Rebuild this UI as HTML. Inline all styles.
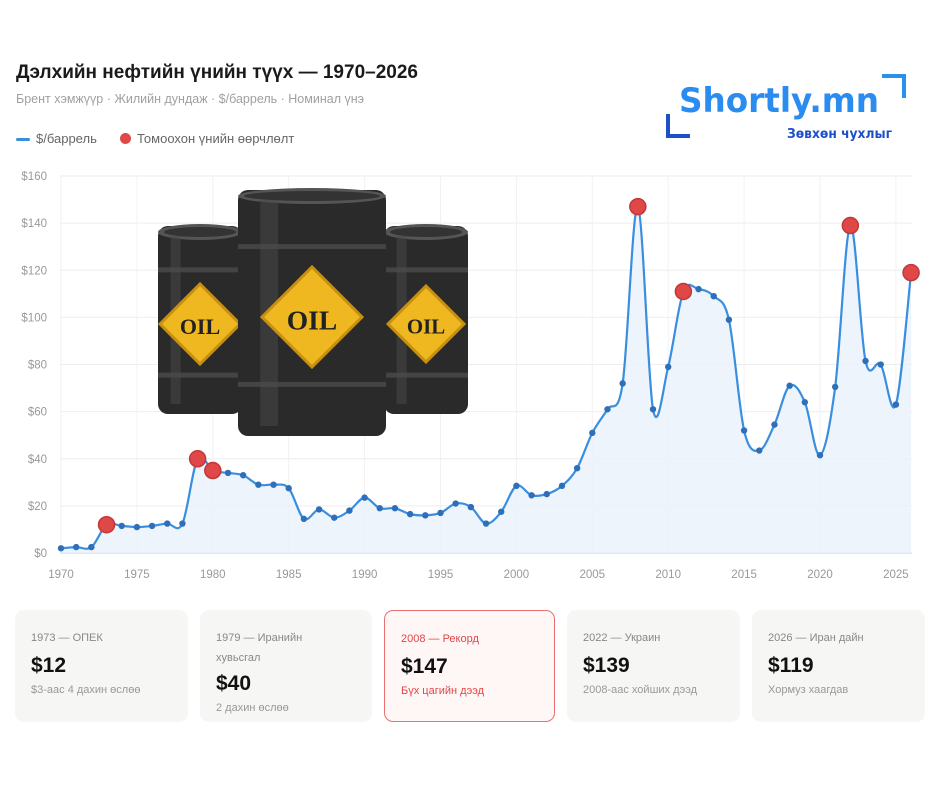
<!DOCTYPE html>
<html><head><meta charset="utf-8">
<style>
body{margin:0;background:#fff;font-family:"Liberation Sans","DejaVu Sans",sans-serif;}
#w{position:relative;width:940px;height:788px;overflow:hidden;}
.t{position:absolute;left:16px;top:62px;font-size:19px;font-weight:bold;color:#1a1a1a;}
.s{position:absolute;left:16px;top:92px;font-size:12.5px;color:#a0a0a0;}
.lg{position:absolute;top:131px;font-size:13px;color:#666;}
.card{position:absolute;top:610px;height:112px;background:#f6f6f4;border-radius:9px;box-sizing:border-box;padding:18px 0 0 16px;}
.card .a{font-size:11px;color:#888;line-height:20px;}
.card .b{font-size:21px;font-weight:bold;color:#111;margin-top:6px;}
.card .c{font-size:11px;color:#999;margin-top:6px;}
.red{background:#fff6f6;border:1.5px solid #e87070;}
.red .a,.red .c{color:#e04848;}
</style></head><body><div id="w">
<div class="t">Дэлхийн нефтийн үнийн түүх — 1970–2026</div>
<div class="s">Брент хэмжүүр · Жилийн дундаж · $/баррель · Номинал үнэ</div>
<div class="lg" style="left:16px"><span style="display:inline-block;width:14px;height:3px;background:#3a8ee0;border-radius:2px;vertical-align:middle;margin-right:6px"></span>$/баррель</div>
<div class="lg" style="left:120px"><span style="display:inline-block;width:11px;height:11px;background:#e04848;border-radius:50%;vertical-align:-1px;margin-right:6px"></span>Томоохон үнийн өөрчлөлт</div>
<svg style="position:absolute;left:0;top:0" width="940" height="788">
<path d="M668 114 V136 H690" stroke="#1c50c8" stroke-width="4" fill="none"/>
<path d="M882 76 H904 V98" stroke="#2a90f0" stroke-width="4" fill="none"/>
<text x="679" y="112" font-size="34" font-weight="bold" fill="#2a8cf0" font-family="DejaVu Sans,sans-serif" textLength="200" lengthAdjust="spacingAndGlyphs">Shortly.mn</text>
<text x="787" y="138" font-size="13" font-weight="bold" fill="#1c50c8" font-family="DejaVu Sans,sans-serif" textLength="105" lengthAdjust="spacingAndGlyphs">Зөвхөн чухлыг</text>
<g id="grid"></g>
<path id="area" fill="#e8f1fb" opacity="0.8"/>
<path id="line" fill="none" stroke="#3a8ee0" stroke-width="2.2"/>
<g id="pts"></g>
<g id="bar">
</g>
</svg>
<div class="card" style="left:15px;width:173px"><div class="a">1973 — ОПЕК</div><div class="b">$12</div><div class="c">$3-аас 4 дахин өслөө</div></div>
<div class="card" style="left:200px;width:172px"><div class="a">1979 — Иранийн<br>хувьсгал</div><div class="b" style="margin-top:4px">$40</div><div class="c">2 дахин өслөө</div></div>
<div class="card red" style="left:384px;width:171px"><div class="a">2008 — Рекорд</div><div class="b">$147</div><div class="c">Бүх цагийн дээд</div></div>
<div class="card" style="left:567px;width:173px"><div class="a">2022 — Украин</div><div class="b">$139</div><div class="c">2008-аас хойших дээд</div></div>
<div class="card" style="left:752px;width:173px"><div class="a">2026 — Иран дайн</div><div class="b">$119</div><div class="c">Хормуз хаагдав</div></div>
</div>
<script>
var NS="http://www.w3.org/2000/svg";
function el(t,a,p){var e=document.createElementNS(NS,t);for(var k in a)e.setAttribute(k,a[k]);p.appendChild(e);return e;}
var d=[2,2.5,2.5,12,11.5,11,11.5,12.5,12.5,40,35,34,33,29,29,27.5,14.5,18.5,15,18,23.5,19,19,16.5,16,17,21,19.5,12.5,17.5,28.5,24.5,25,28.5,36,51,61,72,147,61,79,111,112,109,99,52,43.5,54.5,71,64,41.5,70.5,139,81.5,80,63,119];
var red={1973:1,1979:1,1980:1,2008:1,2011:1,2022:1,2026:1};
function X(y){return 61+(y-1970)*15.18;}function Y(v){return 553-v*2.356;}
var g=document.getElementById('grid');
for(var v=0;v<=160;v+=20){el('line',{x1:60,x2:912,y1:Y(v),y2:Y(v),stroke:'#eee'},g);var t=el('text',{x:47,y:Y(v)+4,'font-size':11.5,fill:'#999','text-anchor':'end'},g);t.textContent='$'+v;}
for(var y=1970;y<=2025;y+=5){el('line',{x1:X(y),x2:X(y),y1:176,y2:553,stroke:'#f2f2f2'},g);var t=el('text',{x:X(y),y:578,'font-size':11.5,fill:'#999','text-anchor':'middle'},g);t.textContent=y;}
el('line',{x1:60,x2:912,y1:553,y2:553,stroke:'#ccc'},g);
var P=d.map(function(v,i){return [X(1970+i),Y(v)];});
var s='M'+P[0][0]+' '+P[0][1];
for(var i=0;i<P.length-1;i++){var p0=P[i-1]||P[i],p1=P[i],p2=P[i+1],p3=P[i+2]||p2;
s+=' C'+(p1[0]+(p2[0]-p0[0])/6)+' '+(p1[1]+(p2[1]-p0[1])/6)+' '+(p2[0]-(p3[0]-p1[0])/6)+' '+(p2[1]-(p3[1]-p1[1])/6)+' '+p2[0]+' '+p2[1];}
document.getElementById('line').setAttribute('d',s);
document.getElementById('area').setAttribute('d',s+' L'+P[P.length-1][0]+' 553 L'+P[0][0]+' 553Z');
var pg=document.getElementById('pts');
P.forEach(function(p,i){if(red[1970+i])el('circle',{cx:p[0],cy:p[1],r:8,fill:'#e04848',stroke:'#c03838','stroke-width':1.5},pg);else el('circle',{cx:p[0],cy:p[1],r:3.2,fill:'#2d6fb8'},pg);});
var b=document.getElementById('bar');
function barrel(x,y,w,h,lw){
el('rect',{x:x,y:y,width:w,height:h,rx:10,fill:'#2a2a2a'},b);
el('ellipse',{cx:x+w/2,cy:y+6,rx:w/2,ry:8,fill:'#555'},b);
el('ellipse',{cx:x+w/2,cy:y+6,rx:w/2-6,ry:5,fill:'#333'},b);
[0.22,0.78].forEach(function(f){el('rect',{x:x,y:y+h*f,width:w,height:5,fill:'#444'},b);});
el('rect',{x:x+w*0.15,y:y+10,width:w*0.12,height:h-20,fill:'#4a4a4a',opacity:.5},b);
var cx=x+w/2,cy=y+h/2+4;
el('polygon',{points:(cx-lw)+','+cy+' '+cx+','+(cy-lw)+' '+(cx+lw)+','+cy+' '+cx+','+(cy+lw),fill:'#f0b820',stroke:'#c89010','stroke-width':3},b);
var t=el('text',{x:cx,y:cy+lw*0.25,'font-size':lw*0.55,'font-weight':'bold','font-family':'Liberation Serif,serif',fill:'#222','text-anchor':'middle'},b);t.textContent='OIL';}
barrel(158,226,84,188,40);barrel(384,226,84,188,38);barrel(238,190,148,246,50);
</script>
</body></html>
